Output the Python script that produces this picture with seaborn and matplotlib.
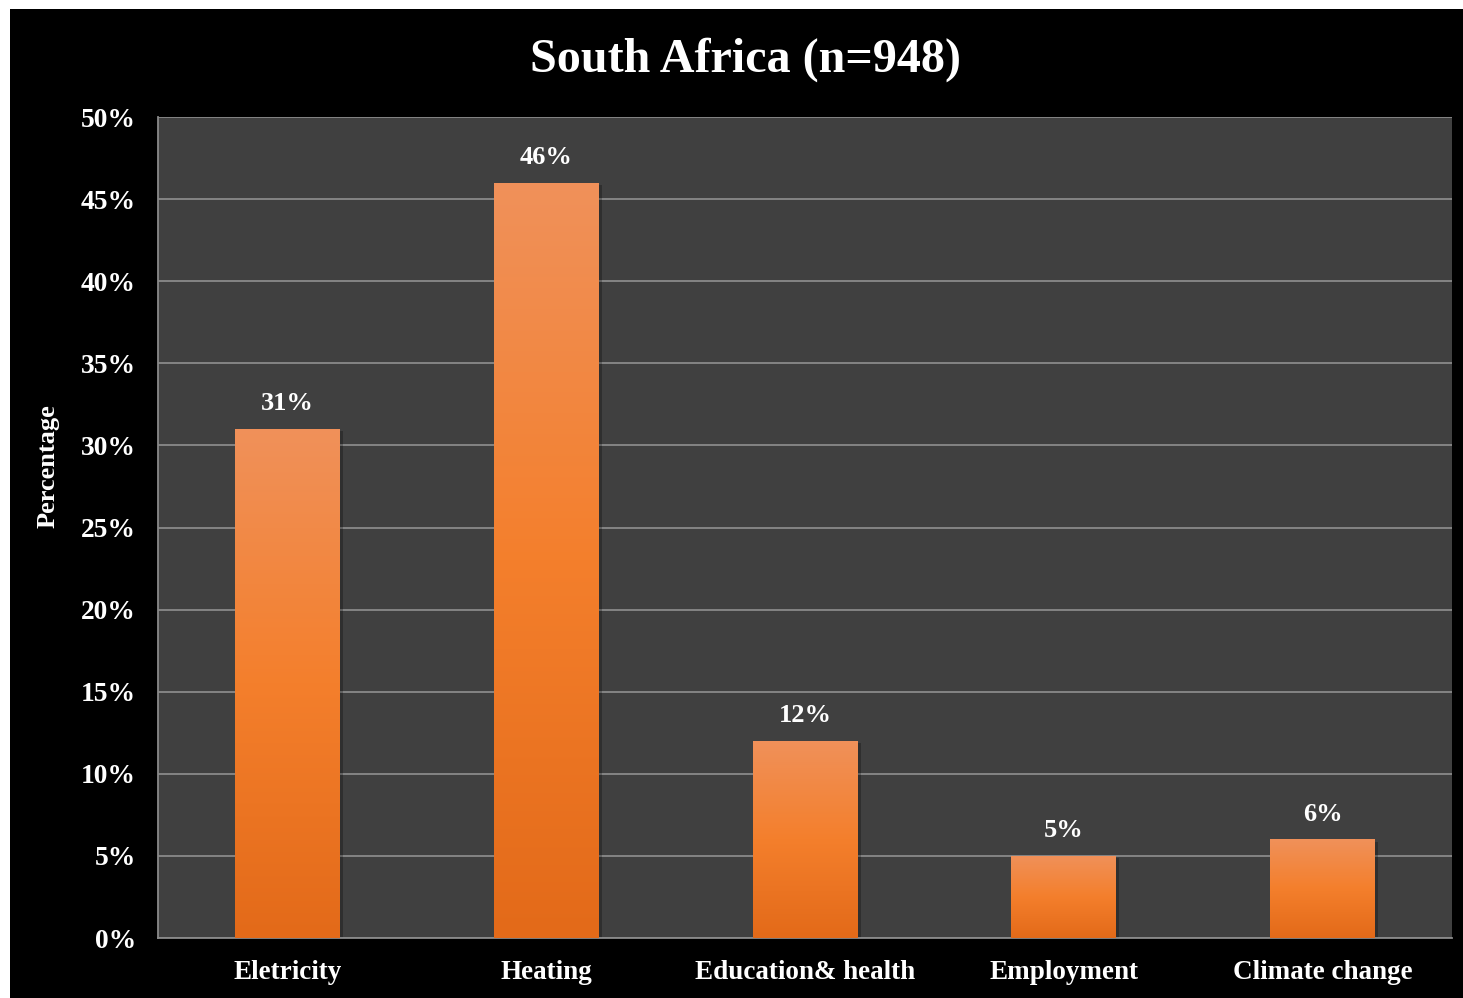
import matplotlib
matplotlib.use("Agg")
import matplotlib.pyplot as plt
import seaborn as sns
import numpy as np
import pandas as pd
from matplotlib.colors import LinearSegmentedColormap
from matplotlib.patches import Rectangle

categories = ["Eletricity", "Heating", "Education& health", "Employment", "Climate change"]
values = [31, 46, 12, 5, 6]
yticks = [0, 5, 10, 15, 20, 25, 30, 35, 40, 45, 50]
title = "South Africa (n=948)"
ylabel = "Percentage"

sns.set_theme(style="dark")
plt.rcParams['font.family'] = ['Liberation Serif', 'DejaVu Serif']
plt.rcParams['font.weight'] = 'bold'

fig = plt.figure(figsize=(14.63, 9.98), dpi=100, facecolor="white")
# black slide panel
bg = fig.add_axes([10/1463, 0, 1 - 10/1463, 989/998], zorder=-10)
bg.set_facecolor("black")
bg.set_xticks([])
bg.set_yticks([])
for s in bg.spines.values():
    s.set_visible(False)

ax = fig.add_axes([158/1463, 60/998, (1452-158)/1463, (938-117)/998], zorder=1)
ax.set_facecolor("#404040")

df = pd.DataFrame({"cat": categories, "val": values})
sns.barplot(data=df, x="cat", y="val", ax=ax, color="#F4812E", width=0.405,
            saturation=1, edgecolor="none", zorder=3)

ax.set_ylim(0, 50)
ax.set_xlim(-0.5, len(categories) - 0.5)
ax.set_yticks(yticks)
ax.set_yticklabels([f"{t}%" for t in yticks], fontsize=19.8, fontweight="bold", color="white")
ax.set_xticks(range(len(categories)))
ax.set_xticklabels(categories, fontsize=19.5, fontweight="bold", color="white")
ax.tick_params(axis="y", length=0, pad=16)
ax.tick_params(axis="x", length=0, pad=16)
ax.set_xlabel("")
ax.set_ylabel(ylabel, fontsize=19, fontweight="bold", color="white")
ax.yaxis.set_label_coords((48 - 158) / (1452 - 158), (938 - 466) / (938 - 117))
ax.yaxis.label.set_va("center")
ax.yaxis.grid(True, color="#8a8a8a", linewidth=1.3, zorder=1)
ax.xaxis.grid(False)
ax.set_axisbelow(True)
for s in ["top", "right"]:
    ax.spines[s].set_visible(False)
for s in ["left", "bottom"]:
    ax.spines[s].set_visible(True)
    ax.spines[s].set_color("#8a8a8a")
    ax.spines[s].set_linewidth(1.3)

cmap = LinearSegmentedColormap.from_list("og", ["#E36A19", "#F47F2C", "#F0915A"])
grad = np.linspace(0, 1, 256).reshape(-1, 1)
for bar, v in zip(ax.patches, values):
    x0, w, h = bar.get_x(), bar.get_width(), bar.get_height()
    # shadow
    ax.add_patch(Rectangle((x0 + 0.012, 0), w, h - 0.15, facecolor="black", alpha=0.25,
                           edgecolor="none", zorder=2))
    im = ax.imshow(grad, extent=[x0, x0 + w, 0, h], origin="lower", cmap=cmap,
                   aspect="auto", zorder=4)
    im.set_clip_path(bar)
    ax.text(x0 + w / 2, h + 1.55, f"{v}%", ha="center", va="center", fontsize=19,
            fontweight="bold", color="white", zorder=5)

ax.set_aspect("auto")
ax.set_xlim(-0.5, len(categories) - 0.5)
ax.set_ylim(0, 50)
fig.text(745 / 1463, 1 - 60 / 998, title, ha="center", va="center",
         fontsize=34.7, fontweight="bold", color="white")

fig.savefig("out.png", dpi=100, facecolor=fig.get_facecolor())
